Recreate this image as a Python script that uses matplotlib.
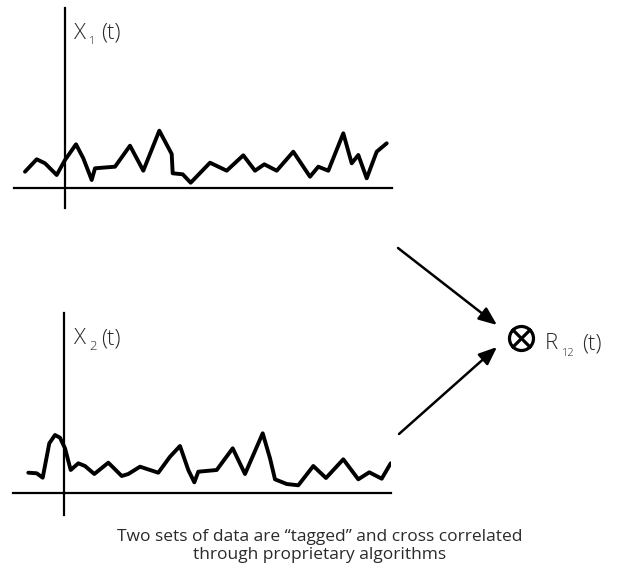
import numpy as np
import matplotlib.pyplot as plt
from matplotlib.patches import Circle

# Signal x1(t): time (px from the vertical axis) and amplitude (px above baseline)
t1 = [-40, -28.3, -20, -8.3, 0, 11, 18.3, 26.7, 30, 50, 65, 78.3, 94.3, 106.7,
      107.7, 117.7, 125.7, 145, 161.7, 178.3, 190, 199.3, 211.7, 228.3, 245,
      253.3, 263.3, 278.3, 286.7, 293.3, 301.7, 311.7, 321.7]
x1 = [16.3, 28.7, 24.7, 13, 28, 43.7, 29.7, 8, 19.7, 21.3, 42.3, 17.3, 57.3, 34,
      14.7, 13.7, 5.3, 25.3, 17.3, 32.7, 17.3, 23.7, 17.3, 36.3, 11.3, 21.3,
      17.3, 54.7, 24.7, 33, 9.7, 36.3, 44.7]

# Signal x2(t)
t2 = [-35.7, -27.3, -21.3, -14.7, -9, -4, 1, 6.7, 14.3, 21, 30.3, 44.3, 51, 57.7,
      64.3, 76, 94.3, 106, 116, 124.3, 130.3, 134.3, 152.7, 168.7, 181, 198.7,
      206, 211, 222.7, 234.3, 249.3, 262, 279.3, 294.3, 305.3, 317.7, 326.7]
x2 = [20.3, 19.7, 15.3, 49.7, 58, 55.3, 44.7, 23, 29.7, 27, 19, 30.3, 23.7, 17,
      19, 26.3, 20.3, 36.3, 47, 23, 10.7, 21.3, 23, 44.7, 19, 59.7, 34.7, 13.7,
      9, 7.7, 27, 15, 33.7, 13.7, 20.7, 14.3, 29.7]

caption = 'Two sets of data are \u201ctagged\u201d and cross correlated\nthrough proprietary algorithms'

W, H = 623, 569
fig = plt.figure(figsize=(W / 100, H / 100), dpi=100)

def signal_axes(left, top, right, bottom, xlim, ylim):
    ax = fig.add_axes([left / W, 1 - bottom / H, (right - left) / W, (bottom - top) / H])
    ax.set_xlim(*xlim)
    ax.set_ylim(*ylim)
    ax.spines['left'].set_position(('data', 0))
    ax.spines['bottom'].set_position(('data', 0))
    ax.spines['right'].set_visible(False)
    ax.spines['top'].set_visible(False)
    for s in ('left', 'bottom'):
        ax.spines[s].set_linewidth(1.6)
        ax.spines[s].set_color('black')
    ax.set_xticks([])
    ax.set_yticks([])
    ax.patch.set_alpha(0)
    return ax

ax1 = signal_axes(14, 8, 392, 208, (-51, 327), (-20, 180))
ax1.plot(t1, x1, color='black', lw=2.8, solid_joinstyle='round', solid_capstyle='round')

ax2 = signal_axes(12.7, 313, 391, 515, (-51.3, 327), (-22, 180))
ax2.plot(t2, x2, color='black', lw=2.8, solid_joinstyle='round', solid_capstyle='round')

# overlay in pixel coordinates for labels, arrows and the multiply symbol
ov = fig.add_axes([0, 0, 1, 1])
ov.set_xlim(0, W)
ov.set_ylim(H, 0)
ov.axis('off')
ov.patch.set_alpha(0)

lab = dict(family='Open Sans', weight='light', color='#2a2a2a', va='baseline')
ov.text(74, 38.5, 'X', fontsize=16, ha='left', **lab)
ov.text(89, 43.5, '1', fontsize=8, ha='left', **lab)
ov.text(101, 38.5, '(t)', fontsize=16, ha='left', **lab)

ov.text(74, 344, 'X', fontsize=16, ha='left', **lab)
ov.text(89, 350, '2', fontsize=9.5, ha='left', **lab)
ov.text(101, 344, '(t)', fontsize=16, ha='left', **lab)

ov.text(545, 349, 'R', fontsize=16, ha='left', **lab)
ov.text(562, 355.5, '12', fontsize=8, ha='left', **lab)
ov.text(582, 349, '(t)', fontsize=16, ha='left', **lab)

cx, cy, r = 521.5, 338.5, 12
ov.add_patch(Circle((cx, cy), r, fill=False, lw=2.3, color='black'))
d = r * np.cos(np.pi / 4)
ov.plot([cx - d, cx + d], [cy - d, cy + d], color='black', lw=2.3)
ov.plot([cx - d, cx + d], [cy + d, cy - d], color='black', lw=2.3)

arrow = dict(arrowstyle='-|>,head_length=1.1,head_width=0.45', color='black', lw=1.8,
             shrinkA=0, shrinkB=0)
ov.annotate('', xy=(497, 325), xytext=(398, 248), arrowprops=arrow)
ov.annotate('', xy=(497, 347), xytext=(399, 434), arrowprops=arrow)

ov.text(320, 546, caption, fontsize=12.5, family='Open Sans', color='#2a2a2a',
        ha='center', va='center', linespacing=1.15)

fig.savefig('out.png', dpi=100)
